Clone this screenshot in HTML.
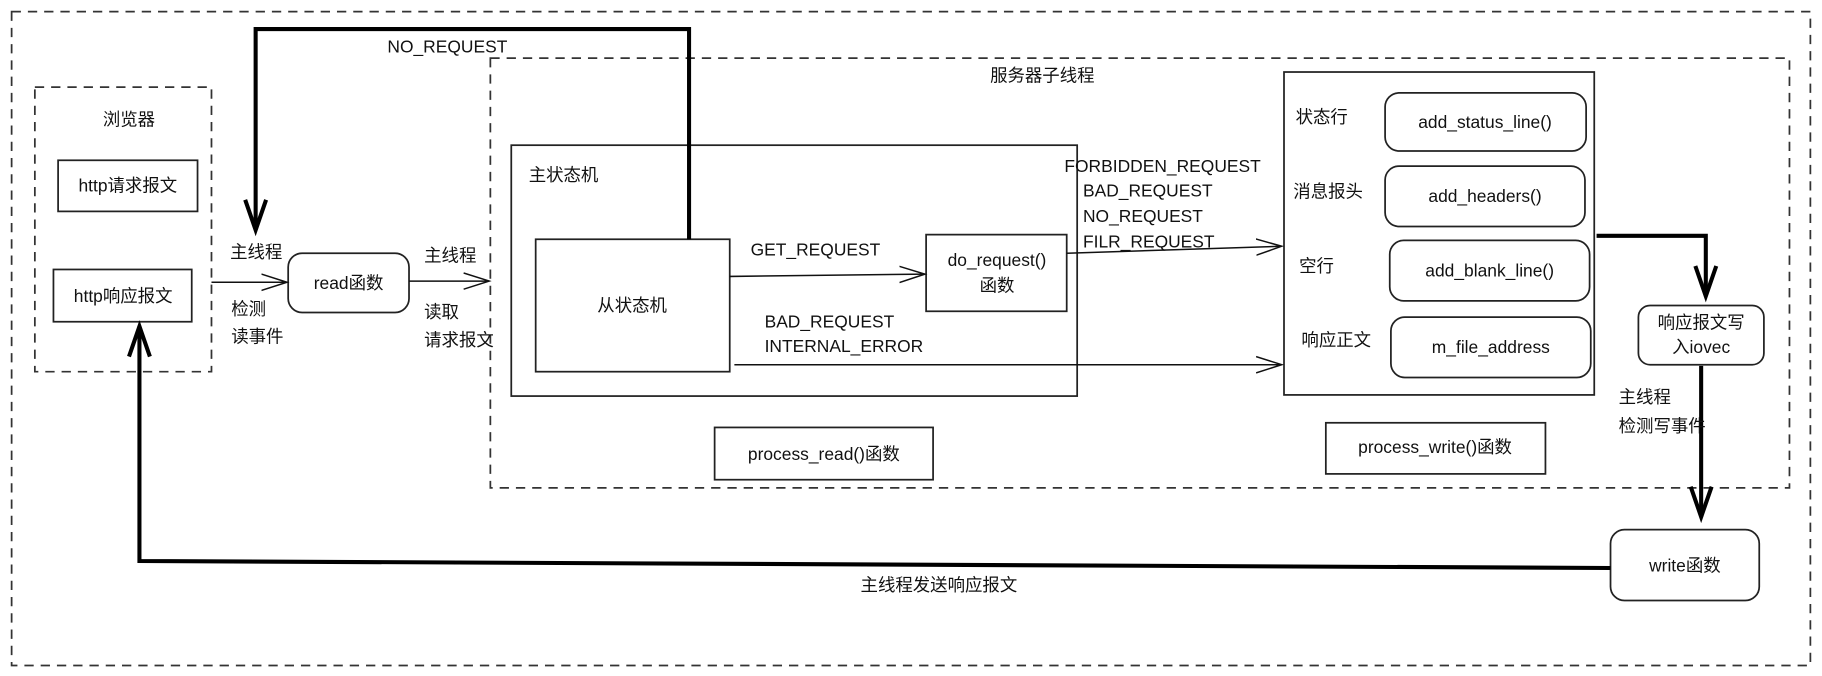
<!DOCTYPE html>
<html><head><meta charset="utf-8"><style>
html,body{margin:0;padding:0;background:#fff;}
svg{display:block;}
text{font-family:"Liberation Sans","Noto Sans CJK SC",sans-serif;font-size:15px;fill:#111;}
</style></head><body>
<svg width="1822" height="676" viewBox="0 0 1568 582" preserveAspectRatio="none" xmlns="http://www.w3.org/2000/svg">
<defs>
<marker id="oa" markerWidth="24" markerHeight="16" refX="22" refY="8" orient="auto" markerUnits="userSpaceOnUse">
<path d="M0,1 L22,8 L0,15" fill="none" stroke="#111" stroke-width="1.3"/></marker>
<marker id="ta" markerWidth="20" markerHeight="30" refX="10" refY="28" orient="auto" markerUnits="userSpaceOnUse" viewBox="0 0 20 30">
</marker>
</defs>
<g fill="none" stroke="#333" stroke-width="1.5" stroke-dasharray="8,6">
<rect x="10" y="10" width="1548" height="563"/>
<rect x="30" y="75" width="152" height="245"/>
<rect x="422" y="50" width="1118" height="370"/>
</g>
<g fill="none" stroke="#222" stroke-width="1.5">
<rect x="50" y="138" width="120" height="44"/>
<rect x="46" y="232" width="119" height="45"/>
<rect x="440" y="125" width="487" height="216"/>
<rect x="461" y="206" width="167" height="114"/>
<rect x="797" y="202" width="121" height="66"/>
<rect x="615" y="368" width="188" height="45"/>
<rect x="1105" y="62" width="267" height="278"/>
<rect x="1141" y="364" width="189" height="44"/>
<rect x="1192" y="80" width="173" height="50" rx="12"/>
<rect x="1192" y="143" width="172" height="52" rx="12"/>
<rect x="1196" y="207" width="172" height="52" rx="12"/>
<rect x="1197" y="273" width="172" height="52" rx="12"/>
<rect x="1410" y="263" width="108" height="51" rx="10"/>
<rect x="1386" y="456" width="128" height="61" rx="12"/>
<rect x="248" y="218" width="104" height="51" rx="12"/>
</g>
<g fill="none" stroke="#111" stroke-width="1.3">
<line x1="182" y1="243" x2="247" y2="243" marker-end="url(#oa)"/>
<line x1="352" y1="242" x2="421" y2="242" marker-end="url(#oa)"/>
<line x1="628" y1="238" x2="796" y2="236" marker-end="url(#oa)"/>
<line x1="632" y1="314" x2="1103" y2="314" marker-end="url(#oa)"/>
<line x1="918" y1="218" x2="1103" y2="212" marker-end="url(#oa)"/>
</g>
<g fill="none" stroke="#000" stroke-width="3.5">
<polyline points="593,206 593,25 220,25 220,198"/>
<path d="M211,172 L220,198 L229,172"/>
<polyline points="1374,203 1468,203 1468,255"/>
<path d="M1459,229 L1468,255 L1477,229"/>
<line x1="1464" y1="315" x2="1464" y2="445"/>
<path d="M1455,419 L1464,445 L1473,419"/>
<polyline points="1386,489 120,483 120,281"/>
<path d="M111,307 L120,281 L129,307"/>
</g>
<text x="111" y="108" text-anchor="middle">浏览器</text>
<text x="110" y="165" text-anchor="middle">http请求报文</text>
<text x="106" y="260" text-anchor="middle">http响应报文</text>
<text x="897" y="70" text-anchor="middle">服务器子线程</text>
<text x="455" y="156">主状态机</text>
<text x="544" y="268" text-anchor="middle">从状态机</text>
<text x="858" y="229" text-anchor="middle">do_request()</text>
<text x="858" y="251" text-anchor="middle">函数</text>
<text x="709" y="396" text-anchor="middle">process_read()函数</text>
<text x="1235" y="390" text-anchor="middle">process_write()函数</text>
<text x="1278" y="110" text-anchor="middle">add_status_line()</text>
<text x="1278" y="174" text-anchor="middle">add_headers()</text>
<text x="1282" y="238" text-anchor="middle">add_blank_line()</text>
<text x="1283" y="304" text-anchor="middle">m_file_address</text>
<text x="1115" y="106">状态行</text>
<text x="1113" y="170">消息报头</text>
<text x="1118" y="234">空行</text>
<text x="1120" y="298">响应正文</text>
<text x="1464" y="283" text-anchor="middle">响应报文写</text>
<text x="1464" y="304" text-anchor="middle">入iovec</text>
<text x="1450" y="492" text-anchor="middle">write函数</text>
<text x="300" y="249" text-anchor="middle">read函数</text>
<text x="385" y="45" text-anchor="middle">NO_REQUEST</text>
<text x="198" y="222">主线程</text>
<text x="199" y="271">检测</text>
<text x="199" y="295">读事件</text>
<text x="365" y="225">主线程</text>
<text x="365" y="274">读取</text>
<text x="365" y="298">请求报文</text>
<text x="646" y="220">GET_REQUEST</text>
<text x="658" y="282">BAD_REQUEST</text>
<text x="658" y="303">INTERNAL_ERROR</text>
<text x="916" y="148">FORBIDDEN_REQUEST</text>
<text x="932" y="169">BAD_REQUEST</text>
<text x="932" y="191">NO_REQUEST</text>
<text x="932" y="213">FILR_REQUEST</text>
<text x="1393" y="347">主线程</text>
<text x="1393" y="372">检测写事件</text>
<text x="808" y="509" text-anchor="middle">主线程发送响应报文</text>
</svg>
</body></html>
